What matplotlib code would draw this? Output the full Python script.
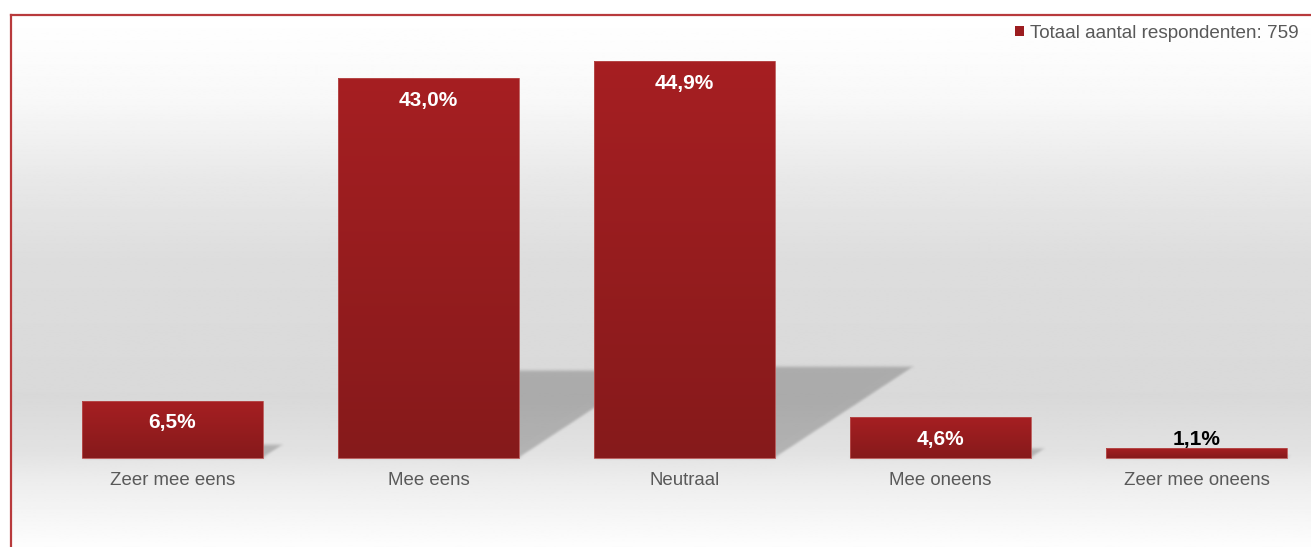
import numpy as np
import matplotlib
matplotlib.use("Agg")
import matplotlib.pyplot as plt
from matplotlib.patches import Polygon, Patch
from matplotlib.colors import LinearSegmentedColormap

plt.rcParams['font.family'] = ['Liberation Sans', 'DejaVu Sans']

# --- data ---------------------------------------------------------------
categories = ["Zeer mee eens", "Mee eens", "Neutraal", "Mee oneens", "Zeer mee oneens"]
percentages = [6.5, 43.0, 44.9, 4.6, 1.1]
legend_label = "Totaal aantal respondenten: 759"

# --- styling ------------------------------------------------------------
W, H, DPI = 1311, 547, 100
border_red = "#b83a3c"
text_grey = "#595959"
bar_top, bar_bottom = "#a61f22", "#861a1b"
bar_width = 0.707
shadow_slant = 0.0121   # horizontal shift of the cast shadow per unit of bar height
shadow_rise = 0.23      # vertical extent of the cast shadow per unit of bar height


def soft_blur(radius):
    """Gaussian blur used as an agg filter for the cast shadows."""
    sigma = radius / 2.0
    k = np.arange(-radius * 2, radius * 2 + 1)
    kern = np.exp(-0.5 * (k / sigma) ** 2)
    kern /= kern.sum()
    pad = radius * 2

    def _filter(im, dpi):
        h, w, c = im.shape
        out = np.zeros((h + 2 * pad, w + 2 * pad, c))
        out[pad:pad + h, pad:pad + w] = im
        out = np.apply_along_axis(lambda m: np.convolve(m, kern, mode="same"), 0, out)
        out = np.apply_along_axis(lambda m: np.convolve(m, kern, mode="same"), 1, out)
        return out, -pad, -pad
    return _filter


fig = plt.figure(figsize=(W / DPI, H / DPI), dpi=DPI)
fig.patch.set_facecolor("white")
ax = fig.add_axes([11 / W, 0, 1300 / W, 532 / H])

x = np.arange(len(categories))
xlim = (-0.6309, 4.4473)
ylim = (-10.07, 50.11)

# background: soft vertical grey gradient
stops = [(0.00, 255), (0.16, 248), (0.31, 232), (0.46, 221), (0.72, 217),
         (0.82, 226), (0.87, 236), (1.00, 253)]
ys = np.linspace(0, 1, 400)
vals = np.interp(ys, [s[0] for s in stops], [s[1] for s in stops]) / 255.0
bg = np.repeat(vals[:, None], 2, axis=1)
ax.imshow(bg, cmap="gray", vmin=0, vmax=1, extent=(xlim[0], xlim[1], ylim[0], ylim[1]),
          origin="upper", aspect="auto", zorder=0, interpolation="bilinear")

# bars (outline only; the fill is a gradient image clipped to each bar)
bars = ax.bar(x, percentages, width=bar_width, facecolor="none",
              edgecolor="#b8504f", linewidth=0.6, zorder=4)

bar_cmap = LinearSegmentedColormap.from_list("barfill", [bar_bottom, bar_top])
grad = np.linspace(1, 0, 100)[:, None]
for rect, val in zip(bars, percentages):
    x0 = rect.get_x()
    x1 = x0 + rect.get_width()
    # cast shadow on the floor behind the bar
    dx = val * shadow_slant
    up = val * shadow_rise
    shadow = Polygon([(x0, 0), (x0 + dx, up), (x1 + dx, up), (x1, 0)],
                     closed=True, facecolor=(0, 0, 0, 0.21), edgecolor="none", zorder=2)
    shadow.set_agg_filter(soft_blur(3))
    ax.add_patch(shadow)
    im = ax.imshow(grad, cmap=bar_cmap, vmin=0, vmax=1, extent=(x0, x1, 0, val),
                   aspect="auto", zorder=3, interpolation="bilinear")
    im.set_clip_path(rect)

# value labels
for xi, val in zip(x, percentages):
    txt = f"{val:.1f}%".replace(".", ",")
    if val * 8.84 < 30:
        ax.annotate(txt, (xi, val), xytext=(0, 6), textcoords="offset points",
                    ha="center", va="center", fontsize=15, fontweight="bold",
                    color="black", zorder=6)
    else:
        ax.annotate(txt, (xi, val), xytext=(0, -16), textcoords="offset points",
                    ha="center", va="center", fontsize=15, fontweight="bold",
                    color="white", zorder=6)

# category labels under the baseline
for xi, cat in zip(x, categories):
    ax.annotate(cat, (xi, 0), xytext=(0, -16), textcoords="offset points",
                ha="center", va="center", fontsize=13.4, color=text_grey, zorder=6)

ax.set_xlim(*xlim)
ax.set_ylim(*ylim)
ax.set_xticks([])
ax.set_yticks([])
for side in ("right", "bottom"):
    ax.spines[side].set_visible(False)
for side in ("top", "left"):
    ax.spines[side].set_color(border_red)
    ax.spines[side].set_linewidth(1.6)
    ax.spines[side].set_zorder(7)

handle = Patch(facecolor="#9c1d20", edgecolor="none")
fig.legend([handle], [legend_label], loc="upper right",
           bbox_to_anchor=(1299 / W, 1 - 24.5 / H), frameon=False,
           borderpad=0, borderaxespad=0, fontsize=13.6, labelcolor=text_grey,
           handlelength=0.45, handleheight=0.45, handletextpad=0.35)

fig.savefig("out.png", dpi=DPI, facecolor="white")
